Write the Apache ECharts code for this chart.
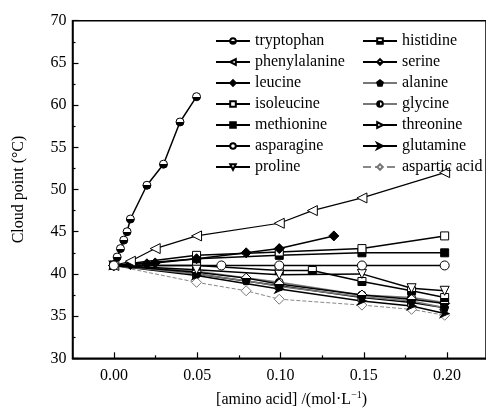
<!DOCTYPE html>
<html><head><meta charset="utf-8">
<script src="https://cdn.jsdelivr.net/npm/echarts@6/dist/echarts.min.js"></script>
<style>html,body{margin:0;padding:0;background:#fff}#c{width:486px;height:418px}</style>
</head><body><div id="c"></div>
<script>
const xTickLabels = ['0.00','0.05','0.10','0.15','0.20'];
const yTickLabels = ['30','35','40','45','50','55','60','65','70'];
const legendLeft = ['tryptophan','phenylalanine','leucine','isoleucine','methionine','asparagine','proline'];
const legendRight = ['histidine','serine','alanine','glycine','threonine','glutamine','aspartic acid'];

const tryptophan = [[0,41],[0.002,42],[0.004,43],[0.006,44],[0.008,45],[0.01,46.5],[0.02,50.5],[0.03,53],[0.04,58],[0.05,61]];
const phenylalanine = [[0,41],[0.01,41.5],[0.025,43],[0.05,44.5],[0.1,46],[0.12,47.5],[0.15,49],[0.2,52]];
const leucine = [[0,41],[0.01,41.1],[0.02,41.2],[0.025,41.3],[0.05,41.8],[0.08,42.5],[0.1,43],[0.133,44.5]];
const isoleucine = [[0,41],[0.05,42.2],[0.1,42.6],[0.15,43],[0.2,44.5]];
const methionine = [[0,41],[0.05,41.8],[0.1,42.2],[0.15,42.5],[0.2,42.5]];
const asparagine = [[0,41],[0.065,41],[0.1,41],[0.15,41],[0.2,41]];
const proline = [[0,41],[0.05,40.5],[0.1,39.9],[0.15,40],[0.18,38.3],[0.2,38]];
const histidine = [[0,41],[0.05,41],[0.1,40.4],[0.12,40.4],[0.15,39.1],[0.18,38],[0.2,37.2]];
const serine = [[0,41],[0.05,40.2],[0.08,39.5],[0.1,38.8],[0.15,37.5],[0.18,37],[0.2,36.5]];
const alanine = [[0,41],[0.05,40],[0.08,39.2],[0.1,38.5],[0.15,37.3],[0.18,36.8],[0.2,36]];
const glycine = [[0,41],[0.05,40.3],[0.1,39],[0.15,37.5],[0.18,37.2],[0.2,36.6]];
const threonine = [[0,41],[0.05,40],[0.1,38.6],[0.15,37.2],[0.18,36.6],[0.2,36]];
const glutamine = [[0,41],[0.05,39.8],[0.1,38.2],[0.15,36.8],[0.18,36.2],[0.2,35.3]];
const asparticAcid = [[0,41],[0.05,39],[0.08,38],[0.1,37],[0.15,36.3],[0.18,35.8],[0.2,35.1]];

const chart = echarts.init(document.getElementById('c'), null, {renderer:'canvas'});
const G = echarts.graphic;
function vgrad(){return new G.LinearGradient(0,0,0,1,[{offset:0,color:'#fff'},{offset:0.5,color:'#fff'},{offset:0.5,color:'#000'},{offset:1,color:'#000'}]);}
function hgrad(){return new G.LinearGradient(0,0,1,0,[{offset:0,color:'#000'},{offset:0.5,color:'#000'},{offset:0.5,color:'#fff'},{offset:1,color:'#fff'}]);}
const pentagon = 'path://M50,0 L97.6,34.5 L79.4,90.5 L20.6,90.5 L2.4,34.5 Z';
const arrowR = 'path://M0,0 L100,50 L0,100 L28,50 Z';
const FONT = 'Liberation Serif';

function mk(name, data, o){
  return Object.assign({
    name, type:'line', data, xAxisIndex:0, yAxisIndex:0,
    symbolSize:8, showSymbol:true, animation:false,
    lineStyle:{color:'#000', width:1.5},
    itemStyle:{color:'#000', borderColor:'#000', borderWidth:1}
  }, o);
}
const openStyle = {color:'#fff', borderColor:'#000', borderWidth:1};
const series = [
  mk('aspartic acid', asparticAcid, {symbol:'diamond', symbolSize:10, lineStyle:{color:'#888', width:1, type:'dashed'}, itemStyle:{color:'#fff', borderColor:'#777', borderWidth:1}}),
  mk('glutamine', glutamine, {symbol:arrowR, symbolSize:[9,8]}),
  mk('threonine', threonine, {symbol:'triangle', symbolRotate:-90, itemStyle:openStyle}),
  mk('glycine', glycine, {symbol:'circle', lineStyle:{color:'#777', width:1.5}, itemStyle:{color:hgrad(), borderColor:'#000', borderWidth:1}}),
  mk('alanine', alanine, {symbol:pentagon, lineStyle:{color:'#777', width:1.5}}),
  mk('serine', serine, {symbol:'diamond', symbolSize:10, itemStyle:{color:vgrad(), borderColor:'#000', borderWidth:1}}),
  mk('histidine', histidine, {symbol:'rect', itemStyle:{color:vgrad(), borderColor:'#000', borderWidth:1}}),
  mk('proline', proline, {symbol:'triangle', symbolRotate:180, symbolSize:9, itemStyle:openStyle}),
  mk('methionine', methionine, {symbol:'rect'}),
  mk('isoleucine', isoleucine, {symbol:'rect', itemStyle:openStyle}),
  mk('leucine', leucine, {symbol:'diamond', symbolSize:10}),
  mk('phenylalanine', phenylalanine, {symbol:'triangle', symbolRotate:90, symbolSize:10, lineStyle:{color:'#000', width:1.2}, itemStyle:openStyle}),
  mk('tryptophan', tryptophan, {symbol:'circle', itemStyle:{color:vgrad(), borderColor:'#000', borderWidth:1}}),
  mk('asparagine', asparagine, {symbol:'circle', symbolSize:9, itemStyle:openStyle})
];

const gridTop = 20.7, gridBottom = 418-358.3, gridLeft = 72.5;
const legendCommon = {orient:'vertical', itemWidth:34, itemHeight:7, itemGap:5,
  textStyle:{fontFamily:FONT, fontSize:16, color:'#000', lineHeight:16}, selectedMode:false, top:28};

chart.setOption({
  animation:false,
  backgroundColor:'#fff',
  grid:[
    {left:gridLeft, right:-3, top:gridTop, bottom:gridBottom, show:true, borderColor:'#000', borderWidth:1.5},
    {left:gridLeft+41.6, width:333, top:gridTop, bottom:gridBottom}
  ],
  legend:[
    Object.assign({}, legendCommon, {left:210, data:legendLeft}),
    Object.assign({}, legendCommon, {left:357, data:legendRight})
  ],
  xAxis:[
    {type:'value', gridIndex:0, min:-0.025, max:0.225, axisLine:{onZero:false, lineStyle:{color:'#000', width:1.5}},
     axisTick:{show:false}, axisLabel:{show:false}, splitLine:{show:false}},
    {type:'value', gridIndex:1, min:0, max:0.2, interval:0.05,
     axisLine:{show:false, onZero:false},
     axisTick:{show:true, inside:true, length:6, lineStyle:{color:'#000', width:1.2}},
     minorTick:{show:true, splitNumber:2, length:3, lineStyle:{color:'#000', width:1.2}},
     axisLabel:{fontFamily:FONT, fontSize:16, color:'#000', margin:9,
       formatter:(v)=>xTickLabels[Math.round(v/0.05)]},
     splitLine:{show:false},
     name:'{a|[amino acid] /(mol·L}{s|−1}{a|)}', nameLocation:'middle', nameGap:32,
     nameTextStyle:{padding:[0,0,0,22], rich:{a:{fontFamily:FONT, fontSize:16, color:'#000'}, s:{fontFamily:FONT, fontSize:10, color:'#000', padding:[0,0,8,0]}}}}
  ],
  yAxis:[
    {type:'value', gridIndex:0, min:30, max:70, interval:5,
     axisLine:{show:true, onZero:false, lineStyle:{color:'#000', width:1.5}},
     axisTick:{show:true, inside:true, length:6, lineStyle:{color:'#000', width:1.2}},
     minorTick:{show:true, splitNumber:2, length:3, lineStyle:{color:'#000', width:1.2}},
     axisLabel:{fontFamily:FONT, fontSize:16, color:'#000', margin:6,
       formatter:(v)=>yTickLabels[Math.round((v-30)/5)]},
     splitLine:{show:false},
     name:'Cloud point (°C)', nameLocation:'middle', nameGap:46,
     nameTextStyle:{fontFamily:FONT, fontSize:16, color:'#000'}},
    {type:'value', gridIndex:1, min:30, max:70, show:false}
  ],
  series
});
</script></body></html>
